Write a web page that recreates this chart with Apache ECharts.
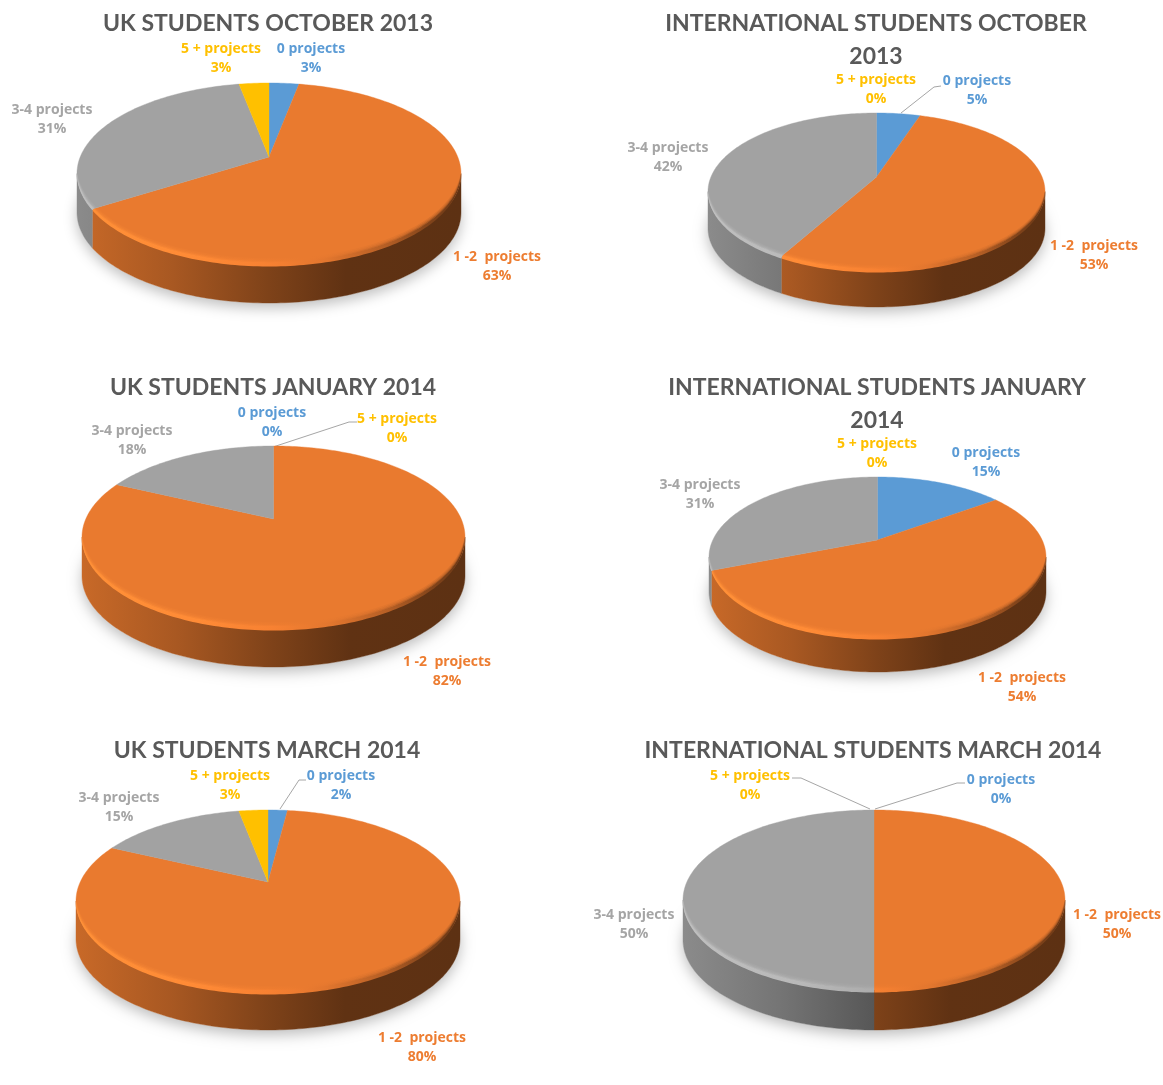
<!DOCTYPE html>
<html><head><meta charset="utf-8">
<style>html,body{margin:0;padding:0;background:#fff}#c{width:1163px;height:1085px;filter:blur(.45px)}</style>
<script src="https://cdn.jsdelivr.net/npm/echarts@6/dist/echarts.min.js"></script>
</head><body><div id="c"></div>
<script>
// ---- data ----
const categories = ['0 projects', '1 -2  projects', '3-4 projects', '5 + projects'];
const ukOct2013   = [3, 63, 31, 3];
const intlOct2013 = [5, 53, 42, 0];
const ukJan2014   = [0, 82, 18, 0];
const intlJan2014 = [15, 54, 31, 0];
const ukMar2014   = [2, 80, 15, 3];
const intlMar2014 = [0, 50, 50, 0];
const chartTitles = ['UK STUDENTS OCTOBER 2013', 'INTERNATIONAL STUDENTS OCTOBER\n2013', 'UK STUDENTS JANUARY 2014',
  'INTERNATIONAL STUDENTS JANUARY\n2014', 'UK STUDENTS MARCH 2014', 'INTERNATIONAL STUDENTS MARCH 2014'];
const chartValues = [ukOct2013, intlOct2013, ukJan2014, intlJan2014, ukMar2014, intlMar2014];

// ---- styling ----
const sliceColors = [[91,155,213],[233,122,47],[162,162,162],[255,192,0]];
const labelColors = ['#5B9BD5','#ED7D31','#A5A5A5','#FFC000'];
const TITLE_FONT = 'Lato, "Open Sans", sans-serif';
const LABEL_FONT = '"Open Sans", sans-serif';

// ---- layout: geometry of each pie, label anchors [x, y of first line], leader lines ----
const layouts = [
 {cx:269,rx:192,yT:83,yB:264,yA:157,bottom:303,titleX:263,titleY:2,
  labels:[[311,48],[497,256],[52,109],[221,48]],leaders:[]},
 {cx:876.5,rx:168.5,yT:113,yB:270,yA:177,bottom:307,titleX:871,titleY:2,
  labels:[[977,80],[1094,245],[668,147],[876,79]],leaders:[[[901,113],[934,87],[941,86]]]},
 {cx:273.5,rx:191.5,yT:446,yB:628,yA:519,bottom:667,titleX:268,titleY:366,
  labels:[[272,412],[447,661],[132,430],[397,418]],leaders:[[[273,447],[349,422],[357,422]]]},
 {cx:877.5,rx:168.5,yT:477,yB:637,yA:540,bottom:672,titleX:872,titleY:366,
  labels:[[986,452],[1022,677],[700,484],[877,443]],leaders:[]},
 {cx:268,rx:192,yT:810,yB:992,yA:882,bottom:1030,titleX:262,titleY:729,
  labels:[[341,775],[422,1037],[119,797],[230,775]],leaders:[[[280,809],[299,780],[306,780]]]},
 {cx:874,rx:191,yT:810,yB:990,yA:885,bottom:1030,titleX:868,titleY:729,
  labels:[[1001,779],[1117,914],[634,914],[750,775]],leaders:[[[870,809],[801,778],[792,778]],[[875,809],[957,783],[965,783]]]}
];
const wallStops  = [[0,.86],[.25,.72],[.5,.54],[.7,.41],[1,.40]];
const bevelStops = [[0,1.18],[.3,1.14],[.5,1.06],[.65,.97],[.8,.78],[.92,.55],[1,.46]];

function shade(c,f){
  return 'rgb('+c.map(v=>Math.min(255,Math.round(v*f))).join(',')+')';
}
function hGrad(L,cx,rx,stops){
  return new echarts.graphic.LinearGradient(cx-rx,0,cx+rx,0,stops.map(s=>({offset:s[0],color:shade(L,s[1])})),true);
}
function projector(l){
  const c=(2*l.yA-l.yT-l.yB)/(l.yT-l.yB);
  const a=l.yT*(1+c)-l.yA;
  const R=l.rx*Math.sqrt(1-c*c);
  return {c, at(r,t,dy){const u=r*Math.sin(t),v=r*Math.cos(t),w=1+c*v;return [l.cx+R*u/w,(a*v+l.yA)/w+(dy||0)];}};
}
function arc(p,rf,t0,t1,dyf){
  const n=Math.max(2,Math.ceil(Math.abs(t1-t0)/0.02)),pts=[];
  for(let i=0;i<=n;i++){const t=t0+(t1-t0)*i/n;pts.push(p.at(rf(t),t,dyf?dyf(t):0));}
  return pts;
}
function makeRender(values,l){
  const p=projector(l), total=values.reduce((a,b)=>a+b,0);
  const depth=l.bottom-l.yB;
  const visA=Math.acos(-p.c), visB=2*Math.PI-visA;
  // bevel fades out towards the two silhouette points of the disc
  const fade=t=>Math.pow(Math.max(0,Math.sin(Math.PI*(t-visA)/(visB-visA))),.7);
  const one=()=>1;
  return function(params,api){
    const i=params.dataIndex, val=api.value(0);
    const before=values.slice(0,i).reduce((a,b)=>a+b,0);
    const t0=before/total*2*Math.PI, t1=(before+val)/total*2*Math.PI;
    const kids=[];
    if(i===0){
      kids.push({type:'polygon',shape:{points:arc(p,one,0,2*Math.PI,()=>depth)},
        style:{fill:'#fff',shadowBlur:14,shadowColor:'rgba(0,0,0,.26)',shadowOffsetY:5}});
    }
    if(val>0){
      const col=sliceColors[i];
      const a=Math.max(t0,visA), b=Math.min(t1,visB);
      const grad=hGrad(col,l.cx,l.rx,wallStops), bev=hGrad(col,l.cx,l.rx,bevelStops);
      if(b>a){
        kids.push({type:'polygon',shape:{points:arc(p,one,a,b).concat(arc(p,one,b,a,()=>depth))},
          style:{fill:grad,stroke:grad,lineWidth:.4}});
      }
      kids.push({type:'polygon',shape:{points:[p.at(0,0)].concat(arc(p,one,t0,t1))},
        style:{fill:shade(col,1),stroke:shade(col,1),lineWidth:.4}});
      if(b>a){
        [[.044,.030,.14],[.032,.020,.3],[.022,.012,.6],[.014,0,1]].forEach(s=>{
          const inner=t=>1-s[0]*fade(t), outer=t=>1-s[1]*fade(t);
          const dy=s[1]===0?(t=>2.5*fade(t)):null;
          kids.push({type:'polygon',shape:{points:arc(p,inner,a,b).concat(arc(p,outer,b,a,dy))},
            style:{fill:bev,opacity:s[2]}});
        });
      }
    }
    const lab=l.labels[i];
    kids.push({type:'text',x:lab[0],y:lab[1]+10.5,style:{text:categories[i]+'\n'+val+'%',
      fill:labelColors[i],font:'bold 14px '+LABEL_FONT,align:'center',verticalAlign:'middle',lineHeight:19.5}});
    if(i===0){
      l.leaders.forEach(pts=>kids.push({type:'polyline',shape:{points:pts},style:{stroke:'#a6a6a6',lineWidth:1,fill:null}}));
    }
    return {type:'group',children:kids};
  };
}
const chart=echarts.init(document.getElementById('c'),null,{renderer:'canvas'});
chart.setOption({
  animation:false,backgroundColor:'#fff',
  title:chartTitles.map((t,i)=>({text:t,left:layouts[i].titleX,top:layouts[i].titleY,textAlign:'center',
    textStyle:{color:'#595959',fontFamily:TITLE_FONT,fontWeight:'bold',fontSize:23,lineHeight:33}})),
  series:chartValues.map((v,i)=>({type:'custom',coordinateSystem:'none',name:chartTitles[i],silent:true,
    data:v.map(x=>[x]),renderItem:makeRender(v,layouts[i])}))
});
</script></body></html>
